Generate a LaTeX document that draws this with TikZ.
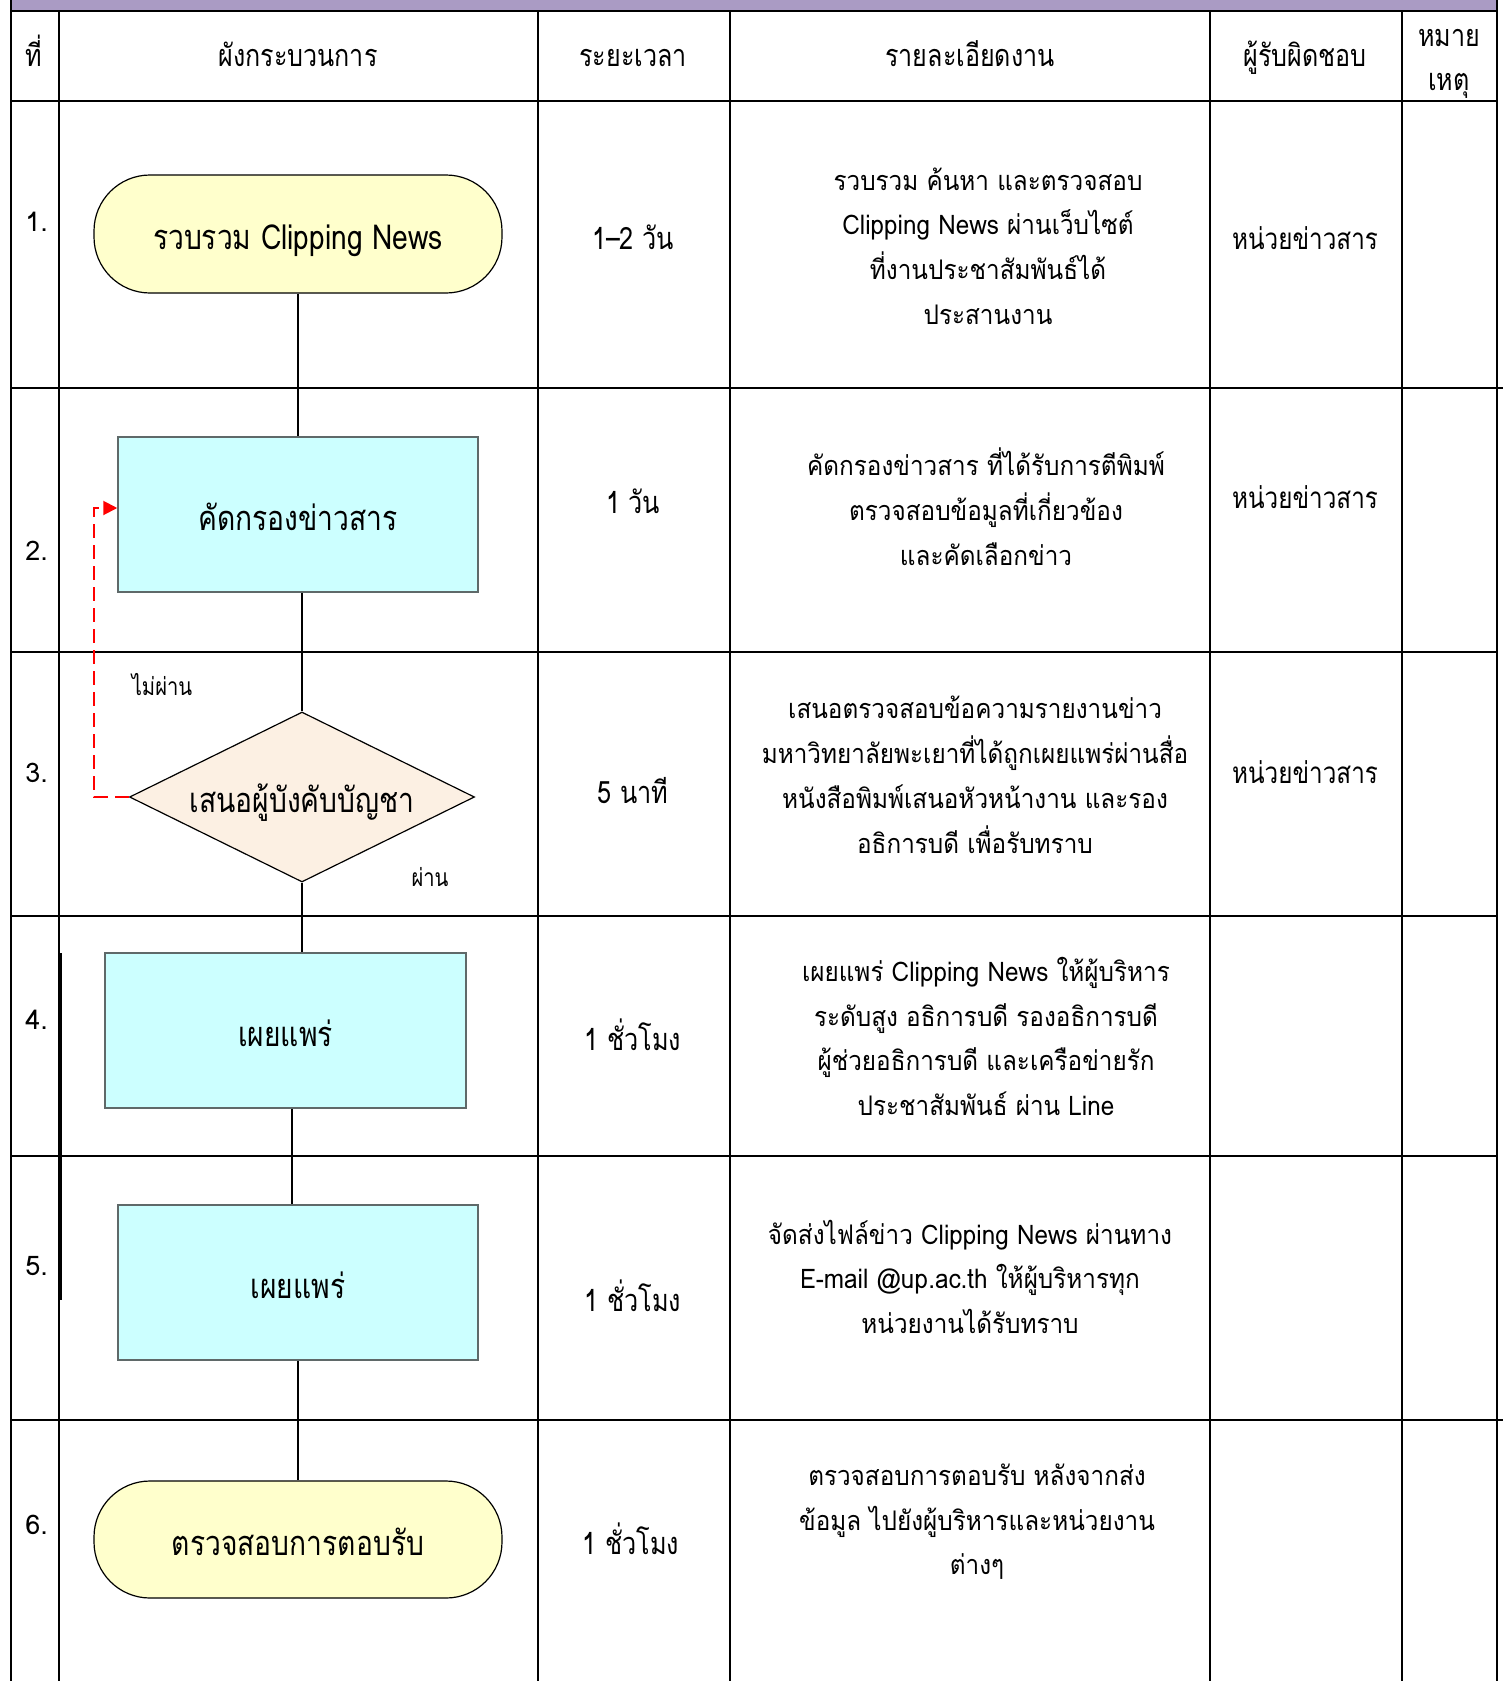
\documentclass[tikz,border=0pt]{standalone}
\usepackage{fontspec}
\setmainfont[Script=Thai]{Loma}
\newfontfamily\narrowthai[Script=Thai,FakeStretch=0.82]{Loma}
\newfontfamily\detailthai[Script=Thai,FakeStretch=0.9]{Loma}
\usetikzlibrary{shapes.geometric,arrows.meta}

\definecolor{bandpurple}{RGB}{170,155,196}
\definecolor{termfill}{RGB}{255,255,204}
\definecolor{procfill}{RGB}{204,255,255}
\definecolor{decfill}{RGB}{252,240,227}
\definecolor{procline}{RGB}{95,105,105}
\definecolor{nogored}{RGB}{255,0,0}

\begin{document}
\begin{tikzpicture}[x=0.5pt,y=-0.5pt,
  grid/.style={line width=1pt,black},
  conn/.style={line width=0.75pt,black},
  nogo/.style={line width=1pt,nogored,dash pattern=on 7pt off 3.5pt,
    -{Triangle[length=7pt,width=7pt,fill=nogored]}},
  hdr/.style={font=\narrowthai\fontsize{15.3}{18}\selectfont,anchor=mid,inner sep=0pt,yshift=-2.6pt},
  rownum/.style={font=\fontsize{13.5}{15}\selectfont,anchor=mid west,inner sep=0pt,yshift=-1.6pt},
  dur/.style={font=\narrowthai\fontsize{15.4}{18}\selectfont,anchor=mid,inner sep=0pt,yshift=-3pt},
  resp/.style={font=\narrowthai\fontsize{14.8}{18}\selectfont,anchor=mid,inner sep=0pt,yshift=-2.6pt},
  detail/.style={font=\detailthai\fontsize{13.5}{16}\selectfont,anchor=mid,inner sep=0pt,yshift=-1.6pt},
  tag/.style={font=\narrowthai\fontsize{12.3}{14}\selectfont,anchor=mid,inner sep=0pt,yshift=-2pt},
  shapetext/.style={font=\narrowthai\fontsize{17.2}{20}\selectfont,text height=15.5pt,text depth=0pt,inner sep=0pt},
  terminal/.style={shapetext,draw=black,line width=0.6pt,fill=termfill,
    rounded corners=28pt,minimum width=204pt,minimum height=59pt},
  process/.style={shapetext,draw=procline,line width=0.75pt,fill=procfill,
    minimum width=180pt,minimum height=77.5pt},
  decision/.style={shapetext,diamond,aspect=2,draw=black,line width=0.6pt,fill=decfill,
    minimum width=172.5pt,minimum height=85pt}
]
\useasboundingbox (0,0) rectangle (1508,1681);
\clip (0,0) rectangle (1508,1681);

% title band above the table
\fill[bandpurple] (11,0) rectangle (1497,11);

% table grid
\draw[grid] (11,0) -- (11,1681);
\draw[grid] (1497,0) -- (1497,1681);
\draw[grid] (11,11) -- (1497,11);
\foreach \cx in {59,538,730,1210,1402} \draw[grid] (\cx,11) -- (\cx,1681);
\foreach \ry in {101,652,916,1156} \draw[grid] (11,\ry) -- (1497,\ry);
\draw[grid] (11,388) -- (1503,388);
\draw[grid] (12,1420) -- (1503,1420);
\draw[grid] (60.5,953) -- (60.5,1300);

% header row
\node[hdr] (h1) at (34,56) {ที่};
\node[hdr] (h2) at (298,56) {ผังกระบวนการ};
\node[hdr] (h3) at (633,56) {ระยะเวลา};
\node[hdr] (h4) at (970,56) {รายละเอียดงาน};
\node[hdr] (h5) at (1305,56) {ผู้รับผิดชอบ};
\node[hdr] (h6a) at (1449,36) {หมาย};
\node[hdr] (h6b) at (1449,80) {เหตุ};

% step numbers
\node[rownum] (r1) at (25,223) {1.};
\node[rownum] (r2) at (25,552) {2.};
\node[rownum] (r3) at (25,774) {3.};
\node[rownum] (r4) at (25,1021) {4.};
\node[rownum] (r5) at (25,1267) {5.};
\node[rownum] (r6) at (25,1526) {6.};

% flowchart
\node[terminal] (s1) at (298,234) {รวบรวม Clipping News};
\node[process] (s2) at (298,514.5) {คัดกรองข่าวสาร};
\node[decision] (s3) at (302,797) {เสนอผู้บังคับบัญชา};
\node[process,minimum width=180.5pt] (s4) at (285.5,1030.5) {เผยแพร่};
\node[process] (s5) at (298,1282.5) {เผยแพร่};
\node[terminal,minimum height=58.5pt] (s6) at (298,1539.5) {ตรวจสอบการตอบรับ};

\draw[conn] (s1.south) -- (s2.north);
\draw[conn] (s2.south -| s3.north) -- (s3.north);
\draw[conn] (s3.south) -- (s3.south |- s4.north);
\draw[conn] ([xshift=3.25pt]s4.south) -- ([xshift=3.25pt]s4.south |- s5.north);
\draw[conn] (s5.south) -- (s6.north);

% rejected branch back to screening
\coordinate (bend) at (94,508);
\draw[nogo] (s3.west) -| (bend) -- (s2.west |- bend);
\node[tag] (t1) at (162,686) {ไม่ผ่าน};
\node[tag] (t2) at (430,877) {ผ่าน};

% durations
\node[dur] (p1) at (633,238) {1–2 วัน};
\node[dur] (p2) at (633,502) {1 วัน};
\node[dur] (p3) at (633,792) {5 นาที};
\node[dur] (p4) at (633,1039) {1 ชั่วโมง};
\node[dur] (p5) at (633,1300) {1 ชั่วโมง};
\node[dur] (p6) at (631,1543) {1 ชั่วโมง};

% responsible unit
\node[resp] (u1) at (1305,239) {หน่วยข่าวสาร};
\node[resp] (u2) at (1305,498) {หน่วยข่าวสาร};
\node[resp] (u3) at (1305,773) {หน่วยข่าวสาร};

% work details
\node[detail] (d1a) at (988,181.7) {รวบรวม ค้นหา และตรวจสอบ};
\node[detail] (d1b) at (988,226.4) {Clipping News ผ่านเว็บไซต์};
\node[detail] (d1c) at (988,271.1) {ที่งานประชาสัมพันธ์ได้};
\node[detail] (d1d) at (988,315.8) {ประสานงาน};

\node[detail] (d2a) at (986,467) {คัดกรองข่าวสาร ที่ได้รับการตีพิมพ์};
\node[detail] (d2b) at (986,512) {ตรวจสอบข้อมูลที่เกี่ยวข้อง};
\node[detail] (d2c) at (986,557) {และคัดเลือกข่าว};

\node[detail] (d3a) at (975,710) {เสนอตรวจสอบข้อความรายงานข่าว};
\node[detail] (d3b) at (975,755) {มหาวิทยาลัยพะเยาที่ได้ถูกเผยแพร่ผ่านสื่อ};
\node[detail] (d3c) at (975,800) {หนังสือพิมพ์เสนอหัวหน้างาน และรอง};
\node[detail] (d3d) at (975,845) {อธิการบดี เพื่อรับทราบ};

\node[detail] (d4a) at (986,973) {เผยแพร่ Clipping News ให้ผู้บริหาร};
\node[detail] (d4b) at (986,1018) {ระดับสูง อธิการบดี รองอธิการบดี};
\node[detail] (d4c) at (986,1062) {ผู้ช่วยอธิการบดี และเครือข่ายรัก};
\node[detail] (d4d) at (986,1107) {ประชาสัมพันธ์ ผ่าน Line};

\node[detail] (d5a) at (970,1236) {จัดส่งไฟล์ข่าว Clipping News ผ่านทาง};
\node[detail] (d5b) at (970,1280) {E-mail @up.ac.th ให้ผู้บริหารทุก};
\node[detail] (d5c) at (970,1325) {หน่วยงานได้รับทราบ};

\node[detail] (d6a) at (977,1477) {ตรวจสอบการตอบรับ หลังจากส่ง};
\node[detail] (d6b) at (977,1522) {ข้อมูล ไปยังผู้บริหารและหน่วยงาน};
\node[detail] (d6c) at (977,1566) {ต่างๆ};
\end{tikzpicture}
\end{document}
